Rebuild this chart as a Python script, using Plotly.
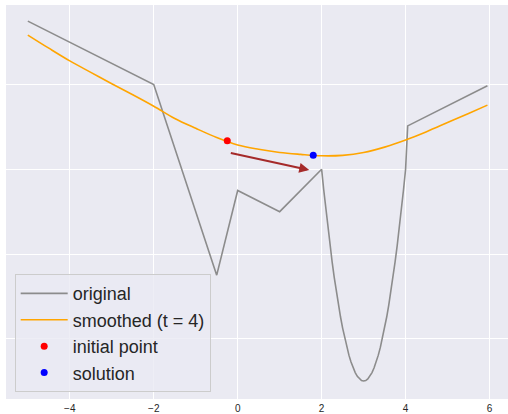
import plotly.graph_objects as go

# ---- data ----
orig_x = [-5.0, -2.0, -0.5, 0.0, 1.0,
          2.0, 2.05, 2.1, 2.15, 2.2, 2.25, 2.3, 2.35, 2.4, 2.45, 2.5,
          2.55, 2.6, 2.65, 2.7, 2.75, 2.8, 2.85, 2.9, 2.95, 3.0,
          3.05, 3.1, 3.15, 3.2, 3.25, 3.3, 3.35, 3.4, 3.45, 3.5,
          3.55, 3.6, 3.65, 3.7, 3.75, 3.8, 3.85, 3.9, 3.95, 4.0,
          4.05, 5.95]
orig_y = [1.75, 1.0, -1.25, -0.25, -0.5,
          0.0, -0.244, -0.475, -0.694, -0.9, -1.094, -1.275, -1.444, -1.6, -1.744, -1.875,
          -1.994, -2.1, -2.194, -2.275, -2.344, -2.4, -2.444, -2.475, -2.494, -2.5,
          -2.494, -2.475, -2.444, -2.4, -2.344, -2.275, -2.194, -2.1, -1.994, -1.875,
          -1.744, -1.6, -1.444, -1.275, -1.094, -0.9, -0.694, -0.475, -0.244, 0.0,
          0.5125, 0.9875]

smooth_x = [-5.0, -4.5, -4.0, -3.5, -3.0, -2.5, -2.0, -1.5, -1.0, -0.5, 0.0,
            0.5, 1.0, 1.5, 2.0, 2.5, 3.0, 3.5, 4.0, 4.5, 5.0, 5.5, 5.95]
smooth_y = [1.585, 1.43, 1.28, 1.145, 1.01, 0.88, 0.745, 0.60, 0.484, 0.375, 0.287,
            0.236, 0.198, 0.176, 0.160, 0.165, 0.198, 0.262, 0.346, 0.444, 0.552, 0.660, 0.758]

initial_point = (-0.248, 0.338)
solution_point = (1.80, 0.165)
arrow_start = (-0.20, 0.196)
arrow_end = (1.705, -0.008)

x_ticks = [-4, -2, 0, 2, 4, 6]
x_tick_labels = ["\u22124", "\u22122", "0", "2", "4", "6"]
y_grid = [-2, -1, 0, 1]

fig = go.Figure()
fig.add_trace(go.Scatter(x=orig_x, y=orig_y, mode="lines", name="original",
                         line=dict(color="#8c8c8c", width=1.6), legendgroup="a"))
fig.add_trace(go.Scatter(x=smooth_x, y=smooth_y, mode="lines", name="smoothed (t = 4)",
                         line=dict(color="#FFA500", width=1.6, shape="spline"), legendgroup="b"))
fig.add_trace(go.Scatter(x=[initial_point[0]], y=[initial_point[1]], mode="markers",
                         name="initial point", marker=dict(color="#FF0000", size=7), legendgroup="c"))
fig.add_trace(go.Scatter(x=[solution_point[0]], y=[solution_point[1]], mode="markers",
                         name="solution", marker=dict(color="#0000FF", size=7), legendgroup="d"))

fig.add_annotation(x=arrow_end[0], y=arrow_end[1], ax=arrow_start[0], ay=arrow_start[1],
                   xref="x", yref="y", axref="x", ayref="y", text="", showarrow=True,
                   arrowhead=2, arrowsize=1, arrowwidth=2, arrowcolor="#A52A2A")

fig.update_layout(
    width=508, height=414,
    margin=dict(l=6, r=0, t=5, b=15, pad=0),
    paper_bgcolor="white", plot_bgcolor="#EAEAF2",
    font=dict(family="Liberation Sans, Arial, sans-serif", color="#262626"),
    xaxis=dict(range=[-5.52, 6.44], tickvals=x_ticks, ticktext=x_tick_labels,
               showgrid=True, gridcolor="white", gridwidth=1, zeroline=False,
               tickfont=dict(size=10, color="#262626"), ticks="", showline=False,
               automargin=False, ticklabelstandoff=2),
    yaxis=dict(range=[-2.712, 1.94], tickvals=y_grid, showticklabels=False,
               showgrid=True, gridcolor="white", gridwidth=1, zeroline=False, ticks="",
               automargin=False),
    legend=dict(x=0.0173, y=0.0174, xanchor="left", yanchor="bottom",
                bgcolor="rgba(234,234,242,0.8)", bordercolor="#CCCCCC", borderwidth=1,
                font=dict(size=18, color="#262626"), tracegroupgap=0, itemwidth=47),
    showlegend=True,
)

fig.write_html("out.html", config={"displayModeBar": False},
               post_script="document.body.style.margin='0px';")
